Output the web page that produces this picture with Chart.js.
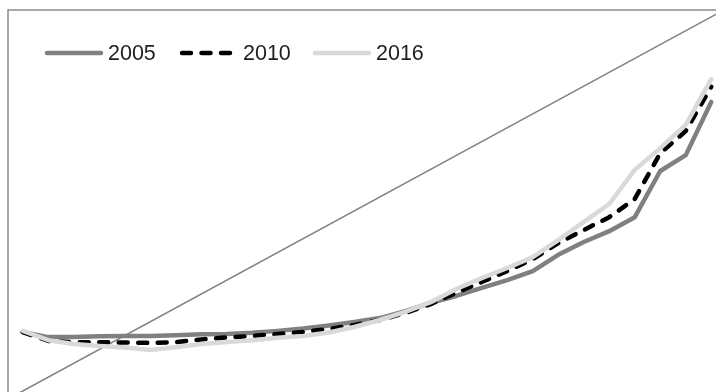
<!DOCTYPE html>
<html>
<head>
<meta charset="utf-8">
<script src="https://cdn.jsdelivr.net/npm/chart.js@4/dist/chart.umd.min.js"></script>
<style>
  html, body { margin: 0; padding: 0; background: #ffffff; overflow: hidden; }
  #wrap { position: absolute; left: 0; top: 0; width: 724px; height: 398px; }
</style>
</head>
<body>
<div id="wrap"><canvas id="c" width="724" height="398"></canvas></div>
<script>
// Groups along the horizontal axis (28 equally spaced categories)
const groups = [1,2,3,4,5,6,7,8,9,10,11,12,13,14,15,16,17,18,19,20,21,22,23,24,25,26,27,28];

// Series names shown in the legend
const years = ['2005', '2010', '2016'];

// Curve values per group, one array per year
const s2005 = [17.0,15.7,15.7,15.9,16.0,16.0,16.2,16.4,16.5,16.8,17.3,17.9,18.7,19.6,
               20.6,22.4,24.5,26.3,28.4,30.4,32.7,36.9,40.2,43.0,46.6,58.5,62.6,76.3];
const s2010 = [17.0,14.7,14.4,14.4,14.3,14.2,14.4,15.1,15.6,16.0,16.5,17.0,17.8,18.8,
               20.1,21.9,24.2,27.1,29.9,32.7,35.8,39.9,43.3,46.6,51.3,63.1,68.8,80.2];
const s2016 = [17.3,14.9,13.9,13.4,13.0,12.4,13.1,13.9,14.4,14.9,15.5,16.0,16.9,18.3,
               20.1,22.2,24.7,28.1,30.9,33.5,36.3,40.7,45.4,50.0,58.8,64.4,70.4,82.2];

// Equality line running corner to corner of the plot
const equalityX = [0.5, 28.5];
const equalityY = [0, 100];

const toPoints = vals => vals.map((v, i) => ({ x: groups[i], y: v }));

const styles = [
  { color: '#808080', dash: [] },
  { color: '#000000', dash: [9, 10.5] },
  { color: '#d9d9d9', dash: [] }
];

// Frame around the plot area
const frame = {
  id: 'frame',
  beforeDatasetsDraw(chart) {
    const a = chart.chartArea, ctx = chart.ctx;
    ctx.save();
    ctx.strokeStyle = '#8a8a8a';
    ctx.lineWidth = 1.5;
    ctx.strokeRect(a.left, a.top, a.right - a.left, a.bottom - a.top);
    ctx.restore();
  }
};

// Legend drawn inside the plot, top-left
const innerLegend = {
  id: 'innerLegend',
  afterDraw(chart) {
    const ctx = chart.ctx;
    const starts = [45, 180, 313];
    const y = 53;
    ctx.save();
    ctx.font = '21.5px "Liberation Sans", Arial, sans-serif';
    ctx.textBaseline = 'middle';
    ctx.fillStyle = '#1e1e1e';
    years.forEach((name, k) => {
      const x0 = starts[k];
      ctx.beginPath();
      ctx.strokeStyle = styles[k].color;
      ctx.lineWidth = 4.5;
      ctx.lineCap = 'round';
      ctx.setLineDash(styles[k].dash);
      ctx.moveTo(x0 + 2, y);
      ctx.lineTo(x0 + 56, y);
      ctx.stroke();
      ctx.setLineDash([]);
      ctx.fillText(name, x0 + 63, y + 1);
    });
    ctx.restore();
  }
};

const series = [s2005, s2010, s2016];

const datasets = series.map((vals, k) => ({
  label: years[k],
  data: toPoints(vals),
  borderColor: styles[k].color,
  borderWidth: 4.5,
  borderDash: styles[k].dash,
  borderCapStyle: 'round',
  borderJoinStyle: 'round',
  pointRadius: 0,
  tension: 0,
  fill: false,
  order: 3 - k
}));

datasets.push({
  label: 'equality',
  data: equalityX.map((x, i) => ({ x: x, y: equalityY[i] })),
  borderColor: '#808080',
  borderWidth: 1.5,
  pointRadius: 0,
  tension: 0,
  fill: false,
  order: 4
});

new Chart(document.getElementById('c'), {
  type: 'line',
  data: { datasets: datasets },
  options: {
    responsive: false,
    devicePixelRatio: 1,
    animation: false,
    layout: { padding: { left: 8, top: 10, right: 0, bottom: 0 } },
    scales: {
      x: { type: 'linear', min: 0.4216, max: 28.5, display: false },
      y: { type: 'linear', min: 0, max: 100, display: false }
    },
    plugins: {
      legend: { display: false },
      tooltip: { enabled: false }
    }
  },
  plugins: [frame, innerLegend]
});
</script>
</body>
</html>
